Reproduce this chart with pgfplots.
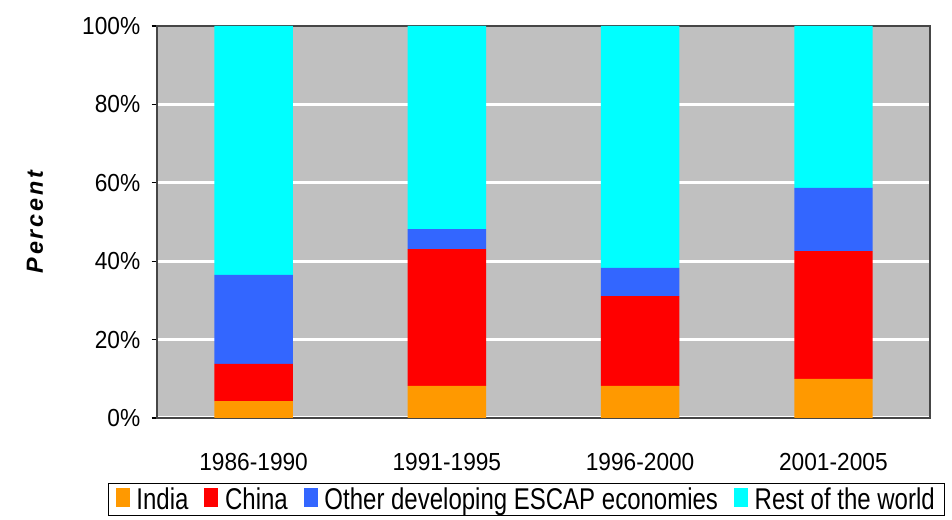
\documentclass[border=0pt]{standalone}
\usepackage{fontspec}
\setmainfont{Liberation Sans}
\newfontfamily\tickfont[FakeStretch=0.92]{Liberation Sans}
\newfontfamily\legfont[FakeStretch=0.80]{Liberation Sans}
\newfontfamily\labfont[LetterSpace=12]{Liberation Sans}
\usepackage{pgfplots}
\pgfplotsset{compat=1.18}
\definecolor{cIndia}{HTML}{FF9900}
\definecolor{cChina}{HTML}{FF0000}
\definecolor{cOther}{HTML}{3366FF}
\definecolor{cRest}{HTML}{00FFFF}
\definecolor{bgGray}{HTML}{C0C0C0}
\begin{document}
\begin{tikzpicture}
\path[use as bounding box] (0,0) rectangle (714pt,390pt);
\begin{axis}[
  at={(117.75pt,76.5pt)}, anchor=south west,
  scale only axis, width=579.75pt, height=294pt,
  ybar stacked, bar width=0.405,
  xmin=-0.5, xmax=3.5, ymin=0, ymax=100,
  xtick pos=bottom, ytick pos=left,
  xtick={0,1,2,3},
  xticklabels={1986-1990,1991-1995,1996-2000,2001-2005},
  x tick label style={yshift=-19pt},
  y tick label style={xshift=-5pt},
  extra x ticks={-0.5,0.5,1.5,2.5,3.5},
  extra x tick labels={},
  extra x tick style={major tick length=6pt, tick style={black, line width=0.8pt}, grid=none},
  ytick={0,20,40,60,80,100},
  yticklabel={\pgfmathprintnumber{\tick}\%},
  /pgf/number format/assume math mode=true,
  ticklabel style={font=\tickfont\fontsize{18.5}{21}\selectfont},
  tick align=outside,
  major tick length=4pt,
  tick style={black, line width=0.8pt},
  xtick style={draw=none},
  ymajorgrids, grid style={white, line width=2.25pt},
  axis background/.style={fill=bgGray},
  axis line style={gray!55!black, line width=1pt},
  ylabel={\labfont\bfseries\itshape Percent},
  ylabel style={at={(axis description cs:-0.158,0.5)}, anchor=center, font=\fontsize{17.5}{20}\selectfont},
  legend columns=-1,
  legend style={at={(axis description cs:-0.0634,-0.1658)}, anchor=north west,
    draw=black, line width=0.6pt, font=\legfont\fontsize{22.5}{26}\selectfont,
    inner xsep=5.5pt, inner ysep=2pt,
    nodes={inner xsep=2pt, inner ysep=1pt},
    /tikz/every odd column/.append style={column sep=3pt},
    /tikz/every even column/.append style={column sep=10pt}},
  legend image code/.code={\fill[#1, draw=none] (0pt,-6pt) rectangle (10.5pt,8.5pt);},
  clip=false,
]
\addplot[fill=cIndia, draw=none] coordinates {(0,4.3) (1,8.2) (2,8.2) (3,10.0)};
\addplot[fill=cChina, draw=none] coordinates {(0,9.5) (1,34.9) (2,22.9) (3,32.6)};
\addplot[fill=cOther, draw=none] coordinates {(0,22.7) (1,5.1) (2,7.2) (3,16.1)};
\addplot[fill=cRest, draw=none] coordinates {(0,63.5) (1,51.8) (2,61.7) (3,41.3)};
\legend{India,China,Other developing ESCAP economies,Rest of the world}
\end{axis}
\end{tikzpicture}
\end{document}
